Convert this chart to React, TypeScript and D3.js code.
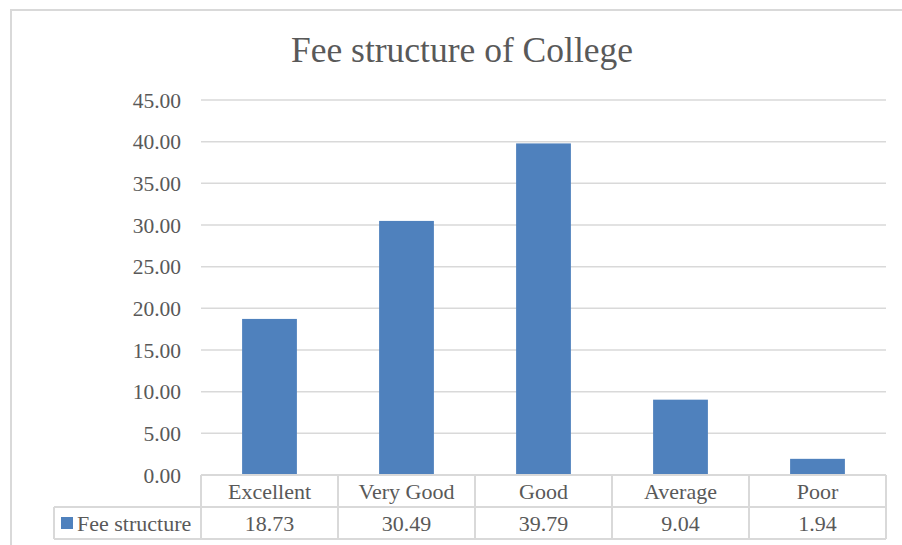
import React, { useEffect, useRef } from 'react';
import * as d3 from 'd3';

const categories: string[] = ['Excellent', 'Very Good', 'Good', 'Average', 'Poor'];
const feeValues: number[] = [18.73, 30.49, 39.79, 9.04, 1.94];
const yTicks: number[] = [0, 5, 10, 15, 20, 25, 30, 35, 40, 45];
const seriesName = 'Fee structure';
const chartTitle = 'Fee structure of College';

const App: React.FC = () => {
  const svgRef = useRef<SVGSVGElement>(null);

  useEffect(() => {
    drawChart();
  }, []);

  const drawChart = () => {
    const svg = d3.select(svgRef.current!);
    svg.selectAll('*').remove();

    const font = '"Liberation Serif", "Times New Roman", serif';
    const textColor = '#595959';
    const gridColor = '#d9d9d9';
    const barColor = '#4f81bd';

    // plot area
    const left = 201;
    const right = 886;
    const top = 100;
    const bottom = 475;
    const rowH = 32;

    // outer chart border (cropped on right and bottom)
    svg
      .append('rect')
      .attr('x', 11)
      .attr('y', 10)
      .attr('width', 920)
      .attr('height', 560)
      .attr('fill', '#fff')
      .attr('stroke', gridColor)
      .attr('stroke-width', 2);

    // title
    svg
      .append('text')
      .attr('x', 462)
      .attr('y', 62)
      .attr('text-anchor', 'middle')
      .attr('font-family', font)
      .attr('font-size', 35.5)
      .attr('fill', textColor)
      .text(chartTitle);

    const xScale = d3.scaleBand<string>().domain(categories).range([left, right]).padding(0);
    const yScale = d3.scaleLinear().domain([0, 45]).range([bottom, top]);

    // gridlines
    svg
      .append('g')
      .selectAll('line')
      .data(yTicks.filter((t) => t > 0))
      .enter()
      .append('line')
      .attr('x1', left)
      .attr('x2', right)
      .attr('y1', (d) => yScale(d))
      .attr('y2', (d) => yScale(d))
      .attr('stroke', gridColor)
      .attr('stroke-width', 1.5);

    // y tick labels
    svg
      .append('g')
      .selectAll('text')
      .data(yTicks)
      .enter()
      .append('text')
      .attr('x', 181)
      .attr('y', (d) => yScale(d))
      .attr('dy', '0.35em')
      .attr('text-anchor', 'end')
      .attr('font-family', font)
      .attr('font-size', 21.5)
      .attr('fill', textColor)
      .text((d) => d.toFixed(2));

    // bars
    const barW = xScale.bandwidth() * 0.4;
    svg
      .append('g')
      .selectAll('rect')
      .data(feeValues)
      .enter()
      .append('rect')
      .attr('x', (d, i) => (xScale(categories[i]) as number) + (xScale.bandwidth() - barW) / 2)
      .attr('y', (d) => yScale(d))
      .attr('width', barW)
      .attr('height', (d) => yScale(0) - yScale(d))
      .attr('fill', barColor);

    // data table
    const table = svg.append('g').attr('stroke', gridColor).attr('stroke-width', 2).attr('fill', 'none');
    table.append('line').attr('x1', left).attr('x2', right).attr('y1', bottom).attr('y2', bottom);
    table.append('line').attr('x1', 54).attr('x2', right).attr('y1', bottom + rowH).attr('y2', bottom + rowH);
    table.append('line').attr('x1', 54).attr('x2', right).attr('y1', bottom + rowH * 2).attr('y2', bottom + rowH * 2);
    table.append('line').attr('x1', 54).attr('x2', 54).attr('y1', bottom + rowH).attr('y2', bottom + rowH * 2);
    table
      .selectAll('line.col')
      .data([...categories.map((c) => xScale(c) as number), right])
      .enter()
      .append('line')
      .attr('class', 'col')
      .attr('x1', (d) => d)
      .attr('x2', (d) => d)
      .attr('y1', bottom)
      .attr('y2', bottom + rowH * 2);

    // category labels
    svg
      .append('g')
      .selectAll('text')
      .data(categories)
      .enter()
      .append('text')
      .attr('x', (d) => (xScale(d) as number) + xScale.bandwidth() / 2)
      .attr('y', bottom + rowH / 2)
      .attr('dy', '0.35em')
      .attr('text-anchor', 'middle')
      .attr('font-family', font)
      .attr('font-size', 22)
      .attr('fill', textColor)
      .text((d) => d);

    // value labels
    svg
      .append('g')
      .selectAll('text')
      .data(feeValues)
      .enter()
      .append('text')
      .attr('x', (d, i) => (xScale(categories[i]) as number) + xScale.bandwidth() / 2)
      .attr('y', bottom + rowH * 1.5)
      .attr('dy', '0.35em')
      .attr('text-anchor', 'middle')
      .attr('font-family', font)
      .attr('font-size', 22)
      .attr('fill', textColor)
      .text((d) => d.toFixed(2));

    // legend key
    svg
      .append('rect')
      .attr('x', 61)
      .attr('y', bottom + rowH * 1.5 - 6)
      .attr('width', 12)
      .attr('height', 12)
      .attr('fill', barColor);

    svg
      .append('text')
      .attr('x', 77)
      .attr('y', bottom + rowH * 1.5)
      .attr('dy', '0.35em')
      .attr('font-family', font)
      .attr('font-size', 22)
      .attr('fill', textColor)
      .text(seriesName);
  };

  return (
    <svg
      ref={svgRef}
      width={902}
      height={545}
      style={{ position: 'fixed', left: 0, top: 0, display: 'block' }}
    />
  );
};

export default App;
